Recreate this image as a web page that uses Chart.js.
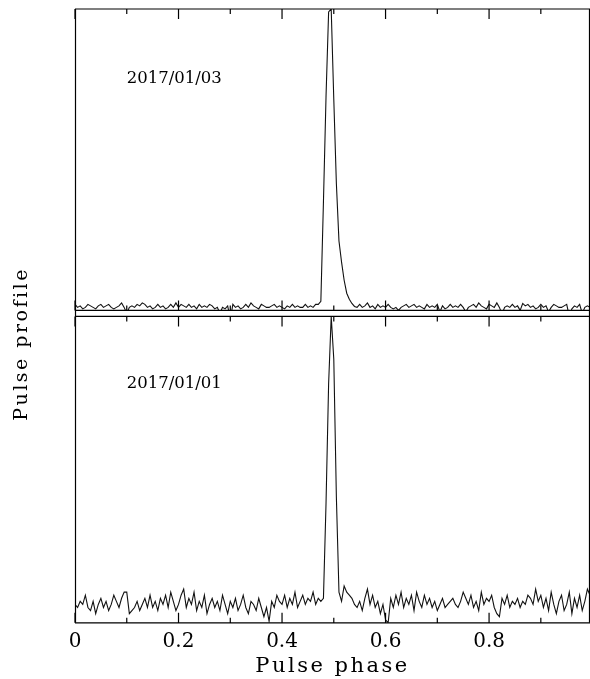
<!DOCTYPE html>
<html>
<head>
<meta charset="utf-8">
<script src="https://cdn.jsdelivr.net/npm/chart.js@4.4.1/dist/chart.umd.min.js"></script>
<style>
  html, body { margin: 0; padding: 0; background: #fff; }
  #wrap { width: 590px; height: 679px; }
</style>
</head>
<body>
<div id="wrap"><canvas id="profile" width="590" height="679"></canvas></div>
<script>
// one bin of pulse phase (200 bins)
const binWidth = 0.005;
const phaseMax = 0.995;

// 2017/01/03 profile, top panel (peak = 100)
const profileJan03 = [
  2, 1, 1.5, 0.5, 1, 2, 1.5, 1, 0.5, 1.5, 2, 1, 1.5, 2, 1, 0.5, 1, 1.5, 2.5, 1,
  -1, 1, 1.5, 1, 2, 1.5, 2.5, 2, 1, 1.5, 0.5, 1, 2, 1, 1.5, 0.5, 1, 2, 1, 2.5,
  1, 2, 1.5, 1, 2, 1, 1.5, 0.5, 2, 1, 1.5, 1, 2, 1.5, 0.5, 1, -1, 1, 0.5, 1.5,
  -3, 2, 1, 1.5, 0.5, 1, 2, 1, 2.5, 1.5, 1, 0.5, 2, 1.5, 1, 1, 1.5, 2, 1, 1.5,
  1, 0.5, 1.5, 1, 2, 1, 1.5, 1, 1, 2, 1, 1.5, 1, 2, 2,
  3, 36, 71, 99, 100, 70, 42, 23, 16, 10, 5.7, 3.7, 2.3, 1.3,
  1, 2, 1, 1.5, 2.5, 1, 1.5, 0.5, 2, 1, 1.5, 1, 2, 1, 0.5, 1, 0, 1, 1.5, 2,
  1, 1.5, 2, 1, 1.5, 1, 0.5, 2, 1, 1.5, 1, 2, -0.5, 1.5, 0.5, 1, 2, 1, 1.5, 1,
  2, 1, -0.5, 1, 1.5, 2, 1, 2.5, 1.5, 1, 0.5, 2, 1.5, 1, 2.5, 1, -1.3, 1, 1.5, 1,
  2, 1, 1.5, 0, 2.3, 1.5, 2, 1, 1.5, 0.5, 1, 2, 1, 1.5, -0.5, 1, 2, 1.5, 1, 1,
  1.5, 2, -2, 0.5, 1.5, 1, 2, -1, 1, 1.5, 1
];

// 2017/01/01 profile, bottom panel (peak = 100)
const profileJan01 = [
  6, 5, 7, 6, 9, 5, 4, 7, 3, 6, 8, 5, 7, 4, 6, 9, 7, 5, 8, 10,
  10, 3, 4, 5, 7, 4, 6, 8, 5, 9, 5, 7, 4, 8, 6, 9, 5, 10, 7, 4,
  6, 9, 11, 5, 8, 6, 10, 4, 7, 5, 9, 3, 6, 8, 5, 7, 4, 9, 6, 3,
  7, 5, 8, 4, 6, 9, 5, 3, 7, 6, 4, 8, 5, 2, 5, 0.5, 7, 5, 9, 7,
  6, 9, 5, 8, 6, 10, 5, 7, 9, 6, 8, 7, 10, 6, 8,
  7, 8, 39, 78, 100, 86, 41, 10, 7, 12, 10, 9,
  8, 6, 5, 7, 4, 8, 11, 6, 9, 5, 7, 3, 6, 1, 0, 8, 5, 9, 6, 10,
  5, 8, 6, 9, 4, 10, 7, 5, 9, 6, 8, 5, 7, 4, 6, 8, 5, 6, 7, 8,
  6, 5, 7, 10, 8, 6, 9, 5, 7, 4, 10, 6, 8, 7, 9, 5, 3, 2, 8, 6,
  9, 5, 7, 6, 8, 5, 7, 6, 9, 8, 6, 11, 7, 9, 5, 8, 4, 10, 6, 3,
  7, 9, 4, 6, 10, 3, 8, 5, 9, 4, 7, 11, 9
];

const panelDates = ['2017/01/03', '2017/01/01'];
const majorTicks = [0, 0.2, 0.4, 0.6, 0.8];
const minorTicks = [0.1, 0.3, 0.5, 0.7, 0.9];

const toPoints = arr => arr.map((v, i) => ({ x: i * binWidth, y: v }));

const serif = 'DejaVu Serif';

// frames with inward ticks, date labels; wider letter spacing for the axis titles
const panelFrames = {
  id: 'panelFrames',
  beforeDraw(chart) {
    chart.ctx.letterSpacing = '2.5px';
  },
  beforeDatasetsDraw(chart) {
    chart.ctx.letterSpacing = '0px';
  },
  afterDatasetsDraw(chart) {
    const { ctx, chartArea, scales } = chart;
    const x = scales.x;
    ctx.save();
    ctx.strokeStyle = '#000';
    ctx.lineWidth = 1.2;
    ['yTop', 'yBot'].forEach(id => {
      const s = scales[id];
      ctx.beginPath();
      ctx.moveTo(chartArea.left, s.top);
      ctx.lineTo(chartArea.right, s.top);
      ctx.moveTo(chartArea.left, s.bottom);
      ctx.lineTo(chartArea.right, s.bottom);
      [[majorTicks, 10], [minorTicks, 5]].forEach(([vals, len]) => {
        vals.forEach(v => {
          const px = x.getPixelForValue(v);
          ctx.moveTo(px, s.top);
          ctx.lineTo(px, s.top + len);
          ctx.moveTo(px, s.bottom);
          ctx.lineTo(px, s.bottom - len);
        });
      });
      ctx.stroke();
    });
    ctx.beginPath();
    ctx.moveTo(chartArea.left + 0.5, chartArea.top);
    ctx.lineTo(chartArea.left + 0.5, chartArea.bottom);
    ctx.moveTo(chartArea.right - 0.5, chartArea.top);
    ctx.lineTo(chartArea.right - 0.5, chartArea.bottom);
    ctx.stroke();

    ctx.fillStyle = '#000';
    ctx.font = '16.5px "' + serif + '"';
    ctx.textBaseline = 'middle';
    ctx.textAlign = 'left';
    ctx.fillText(panelDates[0], x.getPixelForValue(0.1), scales.yTop.getPixelForValue(77));
    ctx.fillText(panelDates[1], x.getPixelForValue(0.1), scales.yBot.getPixelForValue(78));
    ctx.restore();
  }
};

const hiddenY = (weight, stackWeight, min, max) => ({
  type: 'linear',
  position: 'left',
  stack: 'panels',
  stackWeight: stackWeight,
  weight: weight,
  min: min,
  max: max,
  ticks: { display: false },
  grid: { display: false, drawTicks: false },
  border: { display: false }
});

new Chart(document.getElementById('profile'), {
  type: 'line',
  data: {
    datasets: [
      {
        label: panelDates[0],
        data: toPoints(profileJan03),
        yAxisID: 'yTop',
        borderColor: '#111',
        borderWidth: 1.1,
        pointRadius: 0,
        tension: 0
      },
      {
        label: panelDates[1],
        data: toPoints(profileJan01),
        yAxisID: 'yBot',
        borderColor: '#111',
        borderWidth: 1.1,
        pointRadius: 0,
        tension: 0
      }
    ]
  },
  options: {
    responsive: false,
    animation: false,
    devicePixelRatio: 1,
    layout: { padding: { top: 9, right: 0, bottom: 0, left: 0 } },
    plugins: {
      legend: { display: false },
      tooltip: { enabled: false },
      title: {
        display: true,
        position: 'left',
        text: 'Pulse profile',
        color: '#000',
        font: { family: serif, size: 19, weight: 'normal' },
        padding: { top: 10.5, bottom: 41.7 }
      }
    },
    scales: {
      x: {
        type: 'linear',
        min: 0,
        max: phaseMax,
        afterBuildTicks: s => { s.ticks = majorTicks.map(v => ({ value: v })); },
        grid: { display: false, drawTicks: false },
        border: { display: false },
        ticks: {
          z: 1,
          color: '#000',
          font: { family: serif, size: 20 },
          padding: 7,
          maxRotation: 0,
          callback: v => String(v)
        },
        title: {
          display: true,
          text: 'Pulse phase',
          color: '#000',
          font: { family: serif, size: 21 },
          padding: { top: -7, bottom: 0 }
        }
      },
      yTop: hiddenY(2, 301, 0, 100),
      yGap: hiddenY(1, 6, 0, 1),
      yBot: hiddenY(0, 306, 0, 100)
    }
  },
  plugins: [panelFrames]
});
</script>
</body>
</html>
